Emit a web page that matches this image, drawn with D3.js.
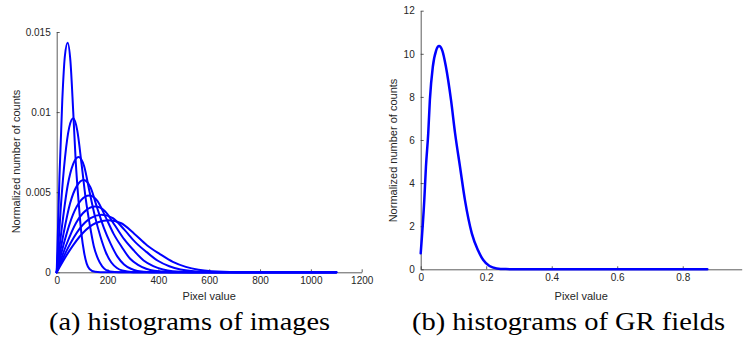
<!DOCTYPE html>
<html><head><meta charset="utf-8">
<script src="https://cdn.jsdelivr.net/npm/d3@7"></script>
<style>body{margin:0;background:#fff} svg{display:block}</style>
</head><body>
<svg id="c" width="743" height="344"></svg>
<script>
// ---------- data ----------
const imgXTicks = [0, 200, 400, 600, 800, 1000, 1200];
const imgYTicks = [0, 0.005, 0.01, 0.015];
const imgYTickLabels = ["0", "0.005", "0.01", "0.015"];
const grXTicks = [0, 0.2, 0.4, 0.6, 0.8];
const grXTickLabels = ["0", "0.2", "0.4", "0.6", "0.8"];
const grYTicks = [0, 2, 4, 6, 8, 10, 12];

// (a) histograms of images: 8 curves, pixel value vs normalized counts
const imgCurvesX = [
  [0, 11, 22, 32, 43, 54, 65, 75, 86, 97, 108, 118, 129, 151, 172, 1100],
  [0, 16, 33, 49, 65, 81, 98, 114, 130, 146, 163, 179, 195, 228, 260, 1100],
  [0, 22, 43, 65, 86, 108, 129, 151, 172, 194, 215, 237, 258, 301, 344, 1100],
  [0, 27, 53, 80, 106, 133, 159, 186, 212, 239, 265, 292, 318, 371, 424, 1100],
  [0, 32, 64, 96, 128, 160, 192, 224, 256, 288, 320, 352, 384, 448, 512, 1100],
  [0, 38, 76, 114, 152, 190, 228, 266, 304, 342, 380, 418, 456, 532, 608, 1100],
  [0, 44, 89, 133, 177, 221, 266, 310, 354, 398, 443, 487, 531, 620, 708, 1100],
  [0, 51, 102, 152, 203, 254, 305, 355, 406, 457, 508, 558, 609, 711, 812, 1100]
];
const imgCurvesY = [
  [0, .00602, .01075, .01347, .01433, .01318, .01003, .00688, .00444, .00244, .00122, .00054, .00021, .00003, 0, 0],
  [0, .00404, .00721, .00903, .00961, .00884, .00673, .00461, .00298, .00163, .00082, .00037, .00014, .00002, 0, 0],
  [0, .00302, .00540, .00677, .00720, .00662, .00504, .00346, .00223, .00122, .00061, .00027, .00011, .00001, 0, 0],
  [0, .00242, .00432, .00541, .00576, .00530, .00403, .00276, .00179, .00098, .00049, .00022, .00009, .00001, 0, 0],
  [0, .00202, .00360, .00451, .00480, .00446, .00346, .00240, .00158, .00086, .00046, .00022, .00009, .00001, 0, 0],
  [0, .00172, .00308, .00385, .00410, .00381, .00295, .00205, .00135, .00074, .00039, .00018, .00007, .00001, 0, 0],
  [0, .00151, .00270, .00338, .00360, .00338, .00266, .00187, .00126, .00072, .00038, .00018, .00008, .00001, 0, 0],
  [0, .00137, .00244, .00306, .00325, .00306, .00241, .00169, .00114, .00065, .00034, .00016, .00007, .00001, 0, 0]
];

// (b) histograms of GR fields
const grX = [0, 0.011, 0.016, 0.023, 0.028, 0.037, 0.047, 0.056, 0.066, 0.077, 0.0925, 0.105, 0.12, 0.135, 0.156, 0.175, 0.191, 0.21, 0.232, 0.26, 0.3, 0.875];
const grY = [0.74, 3.22, 4.76, 6.31, 7.86, 9.4, 10.15, 10.36, 10.15, 9.4, 7.86, 6.31, 4.76, 3.22, 1.67, 0.88, 0.43, 0.15, 0.04, 0.01, 0, 0];

const xLabelText = "Pixel value";
const yLabelText = "Normalized number of counts";
const captions = ["(a) histograms of images", "(b) histograms of GR fields"];

// ---------- drawing ----------
const svg = d3.select("#c");
const axisColor = "#333";
const sans = "'Liberation Sans', Arial, Helvetica, sans-serif";

function styleAxis(g) {
  g.select(".domain").attr("stroke", axisColor).attr("stroke-width", 0.8);
  g.selectAll(".tick line").attr("stroke", axisColor).attr("stroke-width", 0.8);
  g.selectAll(".tick text").attr("fill", "#262626").style("font-family", sans).style("font-size", "10px");
}

function panel(opt) {
  const x = d3.scaleLinear().domain(opt.xDomain).range(opt.xRange);
  const y = d3.scaleLinear().domain(opt.yDomain).range(opt.yRange);
  const gx = svg.append("g").attr("transform", `translate(0,${opt.yRange[0]})`)
    .call(d3.axisBottom(x).tickValues(opt.xTicks).tickFormat((d, i) => opt.xTickLabels[i])
      .tickSizeInner(-3).tickSizeOuter(0).tickPadding(5));
  styleAxis(gx);
  const gy = svg.append("g").attr("transform", `translate(${opt.xRange[0]},0)`)
    .call(d3.axisLeft(y).tickValues(opt.yTicks).tickFormat((d, i) => opt.yTickLabels[i])
      .tickSizeInner(-3).tickSizeOuter(0).tickPadding(6));
  styleAxis(gy);
  gx.attr("font-family", null); gy.attr("font-family", null);

  svg.append("text").text(xLabelText)
    .attr("x", (opt.xRange[0] + opt.xRange[1]) / 2).attr("y", opt.xLabelY)
    .attr("text-anchor", "middle").attr("fill", "#262626")
    .style("font-family", sans).style("font-size", "11px");
  svg.append("text").text(yLabelText)
    .attr("transform", `translate(${opt.yLabelX},${opt.yLabelCY}) rotate(-90)`)
    .attr("text-anchor", "middle").attr("fill", "#262626")
    .style("font-family", sans).style("font-size", "11px");

  const line = d3.line().x(d => x(d[0])).y(d => y(d[1])).curve(d3.curveMonotoneX);
  opt.series.forEach(s => {
    svg.append("path").datum(s).attr("d", line)
      .attr("fill", "none").attr("stroke", "#0000ff").attr("stroke-width", opt.lw)
      .attr("stroke-linejoin", "round").attr("stroke-linecap", "round");
  });
}

panel({
  xDomain: [0, 1200], xRange: [56.7, 361.7],
  yDomain: [0, 0.015], yRange: [272.3, 32],
  xTicks: imgXTicks, xTickLabels: imgXTicks.map(String),
  yTicks: imgYTicks, yTickLabels: imgYTickLabels,
  xLabelY: 299.5, yLabelX: 19.5, yLabelCY: 161.5,
  series: imgCurvesX.map((xs, k) => xs.map((v, i) => [v, imgCurvesY[k][i]])),
  lw: 2
});

panel({
  xDomain: [0, 0.98], xRange: [420.7, 741.7],
  yDomain: [0, 12], yRange: [269.3, 10.7],
  xTicks: grXTicks, xTickLabels: grXTickLabels,
  yTicks: grYTicks, yTickLabels: grYTicks.map(String),
  xLabelY: 299.5, yLabelX: 396.5, yLabelCY: 150.5,
  series: [grX.map((v, i) => [v, grY[i]])],
  lw: 2.5
});

const capPos = [{x: 49, w: 281}, {x: 412, w: 313}];
captions.forEach((c, i) => {
  svg.append("text").text(c)
    .attr("x", capPos[i].x).attr("y", 330)
    .attr("textLength", capPos[i].w).attr("lengthAdjust", "spacingAndGlyphs")
    .attr("fill", "#000")
    .style("font-family", "'Liberation Serif', 'DejaVu Serif', serif").style("font-size", "26px");
});
</script>
</body></html>
